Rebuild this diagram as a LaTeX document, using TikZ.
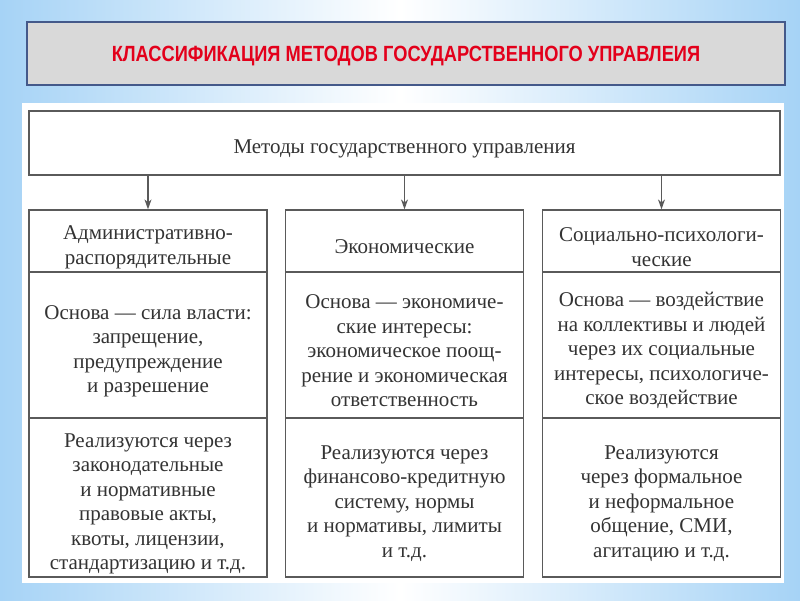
\documentclass[tikz,border=0pt]{standalone}
\usepackage{fontspec}
\setmainfont{Liberation Serif}
\newfontfamily\titlefont[FakeStretch=0.83]{Liberation Sans}
\usetikzlibrary{arrows.meta}
\definecolor{bgblue}{HTML}{A6D3F6}
\definecolor{titlegray}{HTML}{D9D9D9}
\definecolor{titleframe}{HTML}{44598A}
\definecolor{titlered}{HTML}{E3001B}
\definecolor{boxline}{HTML}{5A5A5A}
\definecolor{boxtext}{HTML}{333333}
\newcommand{\tstrut}{\rule{0pt}{26pt}}

\begin{document}
\begin{tikzpicture}[x=1pt, y=-1pt,
    cell/.style={draw=boxline, line width=1.3pt, fill=white, minimum width=238pt,
      align=center, text=boxtext, inner sep=0pt, font=\fontsize{21}{24.5}\selectfont},
    down/.style={draw=boxline, line width=1.2pt, -{Stealth[length=10pt, width=7pt]}}]
    \useasboundingbox (0,0) rectangle (800,600);
    % background and white sheet
    \shade[left color=bgblue, right color=bgblue, middle color=white] (0,0) rectangle (800,600);
    \fill[white] (22,103) rectangle (784,583);
    % heading
    \node[draw=titleframe, line width=2pt, fill=titlegray, minimum width=758pt, minimum height=63pt,
      text depth=0pt, text=titlered, font=\titlefont\bfseries\fontsize{22}{26}\selectfont] (title) at (406,53.5)
      {КЛАССИФИКАЦИЯ МЕТОДОВ ГОСУДАРСТВЕННОГО УПРАВЛЕИЯ};
    \node[cell, minimum width=751pt, minimum height=64pt] (methods) at (404.5,143)
      {\tstrut Методы государственного управления};
    % column heads
    \node[cell, minimum height=62pt] (admhead) at (148,241) {\tstrut Административно-\\распорядительные};
    \node[cell, minimum height=62pt] (ecohead) at (404.5,241) {\tstrut Экономические};
    \node[cell, minimum height=62pt] (sochead) at (661.5,241) {\tstrut Социально-психологи-\\ческие};
    % basis row
    \node[cell, minimum height=146pt] (admbase) at (148,345)
      {\tstrut Основа — сила власти:\\запрещение,\\предупреждение\\и разрешение};
    \node[cell, minimum height=146pt] (ecobase) at (404.5,345)
      {\tstrut Основа — экономиче-\\ские интересы:\\экономическое поощ-\\рение и экономическая\\ответственность};
    \node[cell, minimum height=146pt] (socbase) at (661.5,345)
      {\tstrut Основа — воздействие\\на коллективы и людей\\через их социальные\\интересы, психологиче-\\ское воздействие};
    % means row
    \node[cell, minimum height=159pt] (admreal) at (148,497.5)
      {\tstrut Реализуются через\\законодательные\\и нормативные\\правовые акты,\\квоты, лицензии,\\стандартизацию и т.д.};
    \node[cell, minimum height=159pt] (ecoreal) at (404.5,497.5)
      {\tstrut Реализуются через\\финансово-кредитную\\систему, нормы\\и нормативы, лимиты\\и т.д.};
    \node[cell, minimum height=159pt] (socreal) at (661.5,497.5)
      {\tstrut Реализуются\\через формальное\\и неформальное\\общение, СМИ,\\агитацию и т.д.};
    % arrows
    \draw[down] (methods.south -| admhead.north) -- (admhead.north);
    \draw[down] (methods.south -| ecohead.north) -- (ecohead.north);
    \draw[down] (methods.south -| sochead.north) -- (sochead.north);
  \end{tikzpicture}
\end{document}
